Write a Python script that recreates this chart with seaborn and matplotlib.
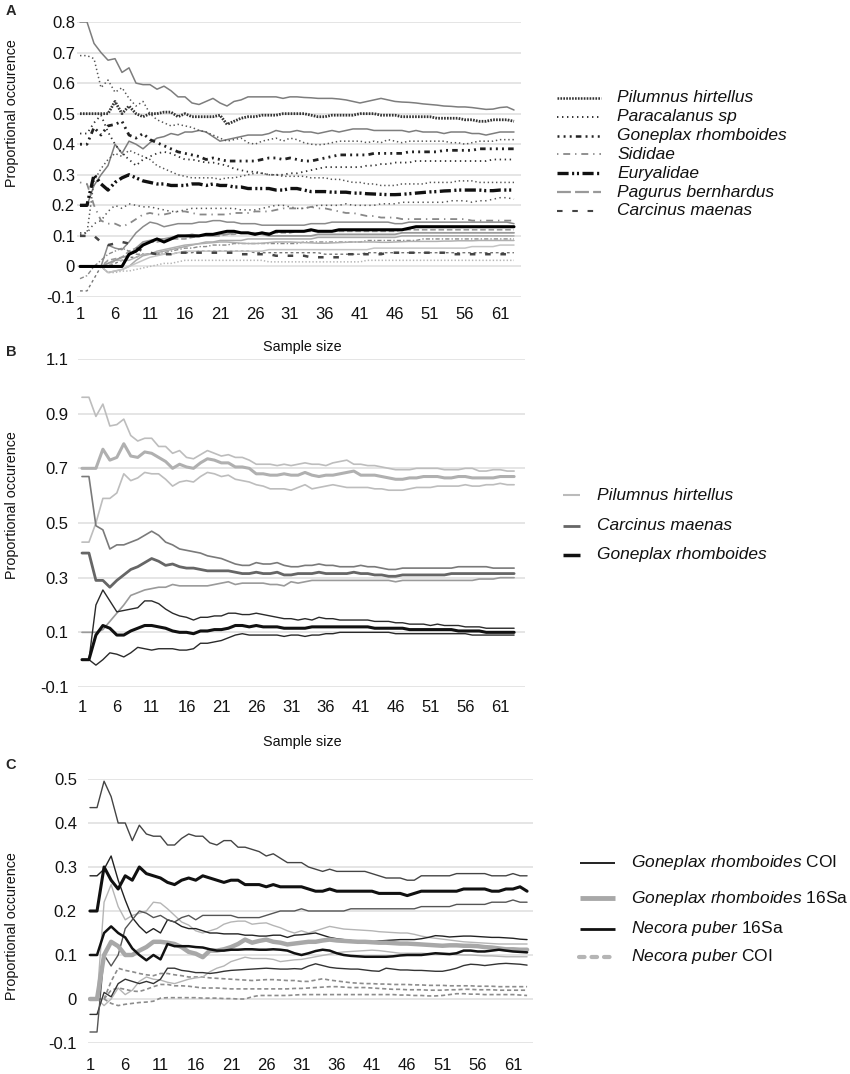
import numpy as np
import pandas as pd
import seaborn as sns
import matplotlib.pyplot as plt
from matplotlib.lines import Line2D

# x axis: sample size 1..63
sample_size = list(range(1, 64))
x_ticks = [1, 6, 11, 16, 21, 26, 31, 36, 41, 46, 51, 56, 61]

# ---------------- panel A ----------------
a_names = ["Pilumnus hirtellus", "Paracalanus sp", "Goneplax rhomboides", "Sididae",
           "Euryalidae", "Pagurus bernhardus", "Carcinus maenas"]
a_yticks = [0.8, 0.7, 0.6, 0.5, 0.4, 0.3, 0.2, 0.1, 0.0, -0.1]

a_pil_hi = [0.8,0.8,0.73,0.7,0.675,0.68,0.635,0.65,0.6,0.595,
            0.595,0.58,0.59,0.575,0.555,0.555,0.535,0.53,0.54,0.55,
            0.535,0.525,0.54,0.545,0.555,0.555,0.555,0.555,0.555,0.55,
            0.555,0.555,0.553,0.552,0.55,0.55,0.55,0.548,0.545,0.54,
            0.535,0.54,0.545,0.55,0.545,0.54,0.538,0.537,0.535,0.532,
            0.53,0.528,0.525,0.524,0.522,0.522,0.52,0.517,0.514,0.515,
            0.52,0.522,0.512]
a_pil_mean = [0.5,0.5,0.5,0.5,0.5,0.54,0.5,0.525,0.5,0.49,
              0.5,0.5,0.505,0.505,0.49,0.5,0.49,0.49,0.49,0.49,
              0.495,0.465,0.475,0.485,0.49,0.49,0.495,0.495,0.495,0.5,
              0.5,0.5,0.5,0.495,0.49,0.49,0.495,0.495,0.495,0.495,
              0.5,0.5,0.5,0.495,0.495,0.495,0.49,0.49,0.49,0.49,
              0.49,0.485,0.485,0.485,0.485,0.48,0.48,0.475,0.475,0.48,
              0.48,0.48,0.475]
a_pil_lo = [0.2,0.2,0.265,0.3,0.33,0.4,0.37,0.41,0.4,0.385,
            0.405,0.42,0.425,0.435,0.43,0.44,0.44,0.445,0.44,0.425,
            0.41,0.415,0.42,0.425,0.43,0.43,0.43,0.435,0.445,0.44,
            0.44,0.445,0.44,0.44,0.435,0.44,0.445,0.44,0.445,0.45,
            0.45,0.45,0.445,0.445,0.445,0.445,0.445,0.44,0.445,0.44,
            0.44,0.44,0.435,0.44,0.44,0.44,0.435,0.435,0.43,0.435,
            0.44,0.44,0.44]
a_par_hi = [0.69,0.69,0.68,0.585,0.61,0.57,0.585,0.55,0.525,0.54,
            0.5,0.48,0.47,0.46,0.465,0.46,0.455,0.445,0.44,0.43,
            0.42,0.41,0.415,0.42,0.405,0.4,0.41,0.415,0.42,0.41,
            0.42,0.415,0.405,0.4,0.398,0.4,0.405,0.41,0.41,0.41,
            0.41,0.405,0.41,0.405,0.415,0.41,0.405,0.41,0.41,0.41,
            0.41,0.41,0.41,0.405,0.405,0.4,0.405,0.41,0.41,0.41,
            0.415,0.415,0.415]
a_par_mean = [0.435,0.435,0.47,0.495,0.44,0.4,0.37,0.35,0.33,0.35,
              0.36,0.37,0.375,0.37,0.36,0.35,0.35,0.345,0.34,0.34,
              0.335,0.33,0.32,0.315,0.31,0.31,0.305,0.3,0.3,0.3,
              0.305,0.305,0.31,0.315,0.32,0.325,0.325,0.325,0.325,0.325,
              0.325,0.33,0.33,0.335,0.335,0.34,0.34,0.34,0.345,0.345,
              0.345,0.345,0.345,0.345,0.345,0.345,0.345,0.345,0.345,0.35,
              0.35,0.35,0.35]
a_par_lo = [0.11,0.11,0.28,0.32,0.35,0.37,0.36,0.38,0.37,0.36,
            0.35,0.33,0.32,0.31,0.3,0.295,0.29,0.29,0.29,0.29,
            0.285,0.29,0.29,0.295,0.3,0.305,0.305,0.3,0.3,0.295,
            0.295,0.295,0.295,0.29,0.29,0.29,0.285,0.285,0.28,0.275,
            0.275,0.27,0.27,0.265,0.265,0.265,0.27,0.27,0.27,0.27,
            0.275,0.275,0.275,0.275,0.28,0.28,0.28,0.275,0.275,0.275,
            0.275,0.275,0.275]
a_gon_mean = [0.4,0.4,0.455,0.43,0.46,0.465,0.475,0.43,0.42,0.435,
              0.415,0.405,0.395,0.385,0.375,0.37,0.365,0.36,0.35,0.355,
              0.35,0.345,0.345,0.345,0.345,0.345,0.35,0.355,0.355,0.35,
              0.355,0.35,0.345,0.345,0.35,0.355,0.36,0.365,0.365,0.365,
              0.365,0.365,0.37,0.37,0.37,0.37,0.37,0.375,0.375,0.375,
              0.375,0.375,0.38,0.38,0.38,0.38,0.38,0.385,0.385,0.385,
              0.385,0.385,0.385]
a_gon_b1 = [0.105,0.11,0.14,0.15,0.18,0.2,0.19,0.205,0.2,0.195,
            0.195,0.19,0.185,0.18,0.18,0.185,0.19,0.19,0.19,0.19,
            0.19,0.19,0.19,0.185,0.185,0.185,0.19,0.195,0.2,0.2,
            0.195,0.19,0.19,0.195,0.2,0.2,0.2,0.2,0.205,0.2,
            0.2,0.2,0.2,0.205,0.205,0.205,0.21,0.21,0.21,0.21,
            0.21,0.21,0.21,0.215,0.215,0.215,0.21,0.215,0.215,0.22,
            0.225,0.225,0.22]
a_gon_b2 = [-0.08,-0.08,-0.04,0.0,0.0,0.01,0.02,0.03,0.03,0.04,
            0.04,0.04,0.04,0.04,0.045,0.045,0.045,0.05,0.05,0.05,
            0.05,0.05,0.05,0.05,0.05,0.045,0.045,0.045,0.045,0.045,
            0.045,0.045,0.045,0.045,0.045,0.04,0.04,0.04,0.04,0.04,
            0.04,0.045,0.045,0.045,0.045,0.045,0.045,0.045,0.045,0.045,
            0.045,0.045,0.045,0.045,0.045,0.045,0.045,0.045,0.045,0.045,
            0.045,0.045,0.045]
a_sid_mean = [0.275,0.27,0.2,0.15,0.14,0.14,0.13,0.14,0.155,0.17,
              0.175,0.17,0.17,0.175,0.18,0.18,0.175,0.17,0.17,0.17,
              0.17,0.17,0.175,0.175,0.175,0.18,0.18,0.18,0.185,0.19,
              0.19,0.19,0.19,0.195,0.19,0.19,0.185,0.18,0.175,0.175,
              0.17,0.165,0.165,0.16,0.16,0.16,0.155,0.155,0.155,0.155,
              0.155,0.155,0.155,0.155,0.155,0.155,0.15,0.15,0.15,0.15,
              0.15,0.15,0.15]
a_sid_b1 = [0.0,0.0,0.0,0.0,0.02,0.025,0.03,0.05,0.06,0.07,
            0.08,0.08,0.085,0.09,0.09,0.09,0.095,0.1,0.1,0.1,
            0.1,0.105,0.105,0.11,0.11,0.11,0.11,0.11,0.11,0.11,
            0.11,0.115,0.115,0.115,0.115,0.115,0.115,0.115,0.115,0.115,
            0.115,0.115,0.115,0.115,0.115,0.115,0.12,0.12,0.12,0.12,
            0.12,0.12,0.12,0.12,0.12,0.12,0.12,0.12,0.12,0.12,
            0.12,0.12,0.12]
a_sid_b2 = [-0.04,-0.03,0.0,0.02,0.04,0.05,0.06,0.05,0.04,0.04,
            0.04,0.04,0.045,0.05,0.055,0.06,0.06,0.065,0.065,0.07,
            0.07,0.07,0.075,0.075,0.075,0.075,0.075,0.075,0.075,0.075,
            0.075,0.075,0.08,0.08,0.08,0.08,0.08,0.08,0.08,0.08,
            0.08,0.085,0.085,0.085,0.085,0.085,0.085,0.085,0.085,0.09,
            0.09,0.09,0.09,0.09,0.09,0.09,0.09,0.09,0.09,0.09,
            0.09,0.09,0.09]
a_eur_mean = [0.2,0.2,0.3,0.27,0.25,0.275,0.29,0.3,0.29,0.28,
              0.275,0.27,0.27,0.265,0.265,0.265,0.27,0.27,0.265,0.27,
              0.265,0.265,0.26,0.26,0.255,0.255,0.255,0.255,0.25,0.25,
              0.255,0.255,0.25,0.245,0.245,0.245,0.243,0.243,0.243,0.24,
              0.24,0.238,0.237,0.236,0.235,0.235,0.236,0.238,0.24,0.242,
              0.244,0.245,0.247,0.248,0.25,0.25,0.25,0.25,0.248,0.248,
              0.25,0.25,0.25]
a_eur_b1 = [0.0,0.0,0.0,0.0,0.0,0.0,0.0,0.04,0.05,0.07,
            0.08,0.09,0.08,0.09,0.1,0.1,0.1,0.1,0.105,0.105,
            0.11,0.115,0.115,0.11,0.11,0.105,0.11,0.105,0.115,0.115,
            0.115,0.115,0.115,0.12,0.115,0.115,0.115,0.12,0.12,0.12,
            0.12,0.12,0.12,0.12,0.12,0.12,0.12,0.125,0.13,0.13,
            0.13,0.13,0.13,0.13,0.13,0.13,0.13,0.13,0.13,0.13,
            0.13,0.13,0.13]
a_eur_b2 = [0.0,0.0,0.0,0.0,-0.02,-0.015,-0.01,0.0,0.02,0.035,
            0.04,0.045,0.05,0.055,0.06,0.065,0.07,0.075,0.08,0.08,
            0.085,0.085,0.085,0.085,0.09,0.09,0.09,0.09,0.09,0.09,
            0.09,0.09,0.09,0.09,0.095,0.095,0.095,0.095,0.095,0.095,
            0.095,0.095,0.095,0.095,0.095,0.095,0.1,0.1,0.1,0.1,
            0.1,0.1,0.1,0.1,0.1,0.1,0.1,0.1,0.1,0.1,
            0.1,0.1,0.1]
a_pag_mean = [0.0,0.0,0.0,0.0,0.01,0.02,0.03,0.035,0.06,0.08,
              0.085,0.09,0.09,0.095,0.1,0.1,0.105,0.1,0.1,0.1,
              0.105,0.105,0.11,0.11,0.11,0.11,0.105,0.1,0.1,0.1,
              0.1,0.1,0.1,0.1,0.105,0.105,0.105,0.105,0.105,0.105,
              0.105,0.105,0.105,0.105,0.105,0.105,0.11,0.11,0.11,0.11,
              0.11,0.11,0.11,0.11,0.11,0.11,0.11,0.11,0.11,0.11,
              0.11,0.11,0.11]
a_pag_b1 = [0.0,0.0,0.0,0.0,0.07,0.06,0.055,0.08,0.11,0.13,
            0.145,0.14,0.13,0.135,0.14,0.14,0.14,0.145,0.145,0.15,
            0.15,0.145,0.145,0.14,0.14,0.14,0.135,0.135,0.135,0.135,
            0.135,0.135,0.135,0.14,0.14,0.14,0.145,0.145,0.145,0.145,
            0.145,0.145,0.145,0.145,0.145,0.14,0.14,0.145,0.145,0.145,
            0.145,0.145,0.145,0.145,0.145,0.145,0.145,0.145,0.145,0.145,
            0.145,0.145,0.14]
a_pag_b2 = [0.0,0.0,0.0,0.0,0.0,0.02,0.02,0.02,0.03,0.04,
            0.04,0.05,0.055,0.06,0.065,0.07,0.072,0.074,0.076,0.078,
            0.08,0.08,0.078,0.076,0.075,0.075,0.076,0.078,0.08,0.08,
            0.08,0.079,0.078,0.077,0.076,0.076,0.077,0.078,0.079,0.08,
            0.08,0.08,0.08,0.079,0.079,0.08,0.081,0.082,0.082,0.082,
            0.082,0.082,0.083,0.083,0.084,0.084,0.084,0.085,0.085,0.085,
            0.085,0.085,0.085]
a_car_mean = [0.1,0.1,0.1,0.08,0.07,0.075,0.08,0.075,0.06,0.05,
              0.045,0.04,0.04,0.04,0.045,0.045,0.045,0.045,0.045,0.045,
              0.045,0.045,0.045,0.04,0.04,0.04,0.04,0.04,0.035,0.035,
              0.035,0.035,0.035,0.03,0.03,0.03,0.03,0.03,0.04,0.04,
              0.04,0.04,0.04,0.04,0.045,0.045,0.045,0.045,0.045,0.045,
              0.045,0.045,0.045,0.04,0.04,0.04,0.04,0.04,0.04,0.04,
              0.04,0.04,0.04]
a_car_b1 = [0.0,0.0,0.0,0.0,-0.02,-0.015,-0.01,0.0,0.01,0.02,
            0.03,0.035,0.04,0.04,0.045,0.05,0.05,0.05,0.05,0.05,
            0.05,0.05,0.05,0.05,0.05,0.05,0.05,0.055,0.055,0.055,
            0.055,0.055,0.055,0.055,0.055,0.055,0.055,0.055,0.055,0.055,
            0.055,0.055,0.06,0.06,0.06,0.06,0.06,0.06,0.06,0.06,
            0.06,0.06,0.06,0.06,0.06,0.06,0.065,0.065,0.065,0.065,
            0.07,0.07,0.07]
a_car_b2 = [0.0,0.0,0.0,0.0,-0.02,-0.02,-0.015,-0.015,-0.01,-0.005,
            0.0,0.005,0.01,0.01,0.015,0.02,0.02,0.02,0.02,0.02,
            0.02,0.02,0.02,0.02,0.02,0.02,0.02,0.015,0.015,0.015,
            0.015,0.015,0.015,0.015,0.015,0.015,0.015,0.015,0.015,0.015,
            0.015,0.02,0.02,0.02,0.02,0.02,0.02,0.02,0.02,0.02,
            0.02,0.02,0.02,0.02,0.02,0.02,0.02,0.02,0.02,0.02,
            0.02,0.02,0.02]

# ---------------- panel B ----------------
b_names = ["Pilumnus hirtellus", "Carcinus maenas", "Goneplax rhomboides"]
b_yticks = [1.1, 0.9, 0.7, 0.5, 0.3, 0.1, -0.1]

b_pil_hi = [0.96,0.96,0.89,0.935,0.855,0.86,0.88,0.82,0.8,0.81,
            0.81,0.78,0.78,0.755,0.765,0.74,0.735,0.75,0.765,0.755,
            0.745,0.75,0.74,0.74,0.73,0.715,0.715,0.715,0.71,0.715,
            0.71,0.715,0.72,0.715,0.715,0.71,0.72,0.725,0.73,0.715,
            0.715,0.71,0.71,0.705,0.7,0.695,0.695,0.695,0.7,0.7,
            0.7,0.7,0.695,0.695,0.695,0.7,0.7,0.69,0.69,0.695,
            0.695,0.69,0.69]
b_pil_mean = [0.7,0.7,0.7,0.77,0.73,0.74,0.79,0.745,0.74,0.76,
              0.755,0.74,0.725,0.7,0.715,0.705,0.7,0.72,0.735,0.73,
              0.72,0.72,0.705,0.705,0.7,0.68,0.68,0.675,0.675,0.68,
              0.675,0.675,0.685,0.675,0.67,0.675,0.675,0.68,0.685,0.69,
              0.675,0.675,0.675,0.67,0.665,0.66,0.66,0.665,0.665,0.67,
              0.67,0.67,0.665,0.665,0.67,0.67,0.665,0.665,0.665,0.665,
              0.67,0.67,0.67]
b_pil_lo = [0.43,0.43,0.5,0.59,0.59,0.61,0.68,0.655,0.665,0.685,
            0.68,0.68,0.66,0.635,0.65,0.655,0.65,0.67,0.685,0.68,
            0.67,0.675,0.66,0.655,0.65,0.64,0.635,0.625,0.625,0.625,
            0.62,0.63,0.64,0.625,0.63,0.635,0.64,0.635,0.63,0.63,
            0.63,0.63,0.625,0.625,0.62,0.62,0.62,0.625,0.63,0.63,
            0.63,0.635,0.635,0.635,0.635,0.64,0.635,0.635,0.64,0.64,
            0.645,0.64,0.64]
b_car_hi = [0.67,0.67,0.49,0.475,0.405,0.42,0.42,0.43,0.44,0.455,
            0.47,0.455,0.43,0.42,0.405,0.4,0.395,0.39,0.38,0.375,
            0.37,0.36,0.35,0.345,0.345,0.355,0.35,0.35,0.355,0.345,
            0.34,0.34,0.345,0.345,0.35,0.345,0.345,0.34,0.34,0.34,
            0.345,0.34,0.34,0.335,0.33,0.33,0.335,0.335,0.335,0.335,
            0.335,0.335,0.335,0.335,0.34,0.34,0.34,0.34,0.34,0.335,
            0.335,0.335,0.335]
b_car_mean = [0.39,0.39,0.29,0.29,0.265,0.29,0.31,0.33,0.34,0.355,
              0.37,0.36,0.345,0.35,0.34,0.335,0.335,0.33,0.325,0.325,
              0.325,0.325,0.32,0.315,0.315,0.32,0.315,0.315,0.32,0.31,
              0.31,0.315,0.315,0.315,0.32,0.315,0.315,0.315,0.315,0.32,
              0.315,0.315,0.31,0.31,0.305,0.305,0.31,0.31,0.31,0.31,
              0.31,0.31,0.31,0.315,0.315,0.315,0.315,0.315,0.315,0.315,
              0.315,0.315,0.315]
b_car_lo = [0.1,0.1,0.1,0.11,0.14,0.17,0.2,0.235,0.245,0.255,
            0.26,0.265,0.265,0.275,0.27,0.27,0.27,0.27,0.27,0.275,
            0.28,0.285,0.275,0.28,0.28,0.28,0.28,0.275,0.275,0.27,
            0.285,0.28,0.285,0.29,0.29,0.29,0.29,0.29,0.29,0.29,
            0.29,0.29,0.29,0.29,0.29,0.285,0.29,0.29,0.29,0.29,
            0.29,0.29,0.29,0.29,0.29,0.29,0.29,0.295,0.295,0.295,
            0.3,0.3,0.3]
b_gon_hi = [0.0,0.0,0.2,0.255,0.215,0.175,0.18,0.185,0.19,0.215,
            0.215,0.205,0.185,0.17,0.16,0.155,0.145,0.155,0.155,0.16,
            0.16,0.17,0.17,0.165,0.165,0.17,0.165,0.16,0.155,0.15,
            0.15,0.145,0.15,0.145,0.155,0.15,0.15,0.145,0.145,0.145,
            0.145,0.145,0.14,0.14,0.14,0.135,0.135,0.13,0.13,0.13,
            0.125,0.13,0.125,0.125,0.125,0.12,0.12,0.12,0.115,0.115,
            0.115,0.115,0.115]
b_gon_mean = [0.0,0.0,0.09,0.125,0.115,0.09,0.09,0.105,0.115,0.125,
              0.125,0.12,0.115,0.105,0.1,0.1,0.095,0.105,0.105,0.11,
              0.11,0.115,0.125,0.125,0.12,0.125,0.12,0.12,0.12,0.115,
              0.115,0.115,0.115,0.12,0.12,0.12,0.12,0.12,0.12,0.12,
              0.12,0.12,0.115,0.115,0.115,0.115,0.115,0.11,0.11,0.11,
              0.11,0.11,0.11,0.11,0.105,0.105,0.105,0.105,0.1,0.1,
              0.1,0.1,0.1]
b_gon_lo = [0.0,0.0,-0.02,0.0,0.025,0.02,0.01,0.025,0.045,0.04,
            0.035,0.04,0.04,0.04,0.035,0.035,0.04,0.06,0.06,0.065,
            0.07,0.08,0.09,0.095,0.09,0.09,0.09,0.09,0.09,0.085,
            0.09,0.09,0.085,0.09,0.09,0.095,0.095,0.1,0.1,0.1,
            0.1,0.1,0.1,0.1,0.1,0.095,0.095,0.095,0.095,0.095,
            0.095,0.095,0.095,0.095,0.095,0.095,0.09,0.09,0.09,0.09,
            0.09,0.09,0.09]

# ---------------- panel C ----------------
c_yticks = [0.5, 0.4, 0.3, 0.2, 0.1, 0.0, -0.1]

c_gcoi_hi = [0.435,0.435,0.495,0.46,0.4,0.4,0.36,0.395,0.375,0.37,
             0.37,0.35,0.35,0.365,0.375,0.37,0.37,0.355,0.35,0.36,
             0.36,0.345,0.345,0.34,0.335,0.325,0.33,0.32,0.31,0.31,
             0.31,0.3,0.295,0.29,0.295,0.29,0.29,0.29,0.29,0.29,
             0.285,0.28,0.275,0.275,0.275,0.27,0.27,0.28,0.28,0.28,
             0.28,0.28,0.285,0.285,0.285,0.285,0.285,0.28,0.28,0.28,
             0.285,0.28,0.28]
c_gcoi_mean = [0.2,0.2,0.3,0.27,0.25,0.28,0.27,0.3,0.285,0.28,
               0.275,0.265,0.26,0.27,0.275,0.27,0.28,0.275,0.27,0.265,
               0.27,0.27,0.26,0.26,0.26,0.255,0.26,0.255,0.255,0.255,
               0.255,0.25,0.245,0.245,0.25,0.245,0.245,0.245,0.245,0.245,
               0.245,0.24,0.24,0.24,0.24,0.235,0.24,0.245,0.245,0.245,
               0.245,0.245,0.245,0.25,0.25,0.25,0.25,0.245,0.245,0.25,
               0.25,0.255,0.245]
c_gcoi_lo = [-0.075,-0.075,0.1,0.075,0.1,0.16,0.18,0.2,0.195,0.185,
             0.19,0.18,0.175,0.185,0.19,0.18,0.19,0.19,0.19,0.19,
             0.19,0.185,0.185,0.185,0.185,0.19,0.195,0.2,0.2,0.2,
             0.205,0.2,0.2,0.2,0.2,0.2,0.2,0.205,0.205,0.205,
             0.205,0.205,0.205,0.205,0.205,0.205,0.205,0.21,0.21,0.21,
             0.21,0.21,0.215,0.215,0.215,0.215,0.215,0.22,0.22,0.22,
             0.225,0.22,0.22]
c_g16_hi = [0.0,0.0,0.22,0.26,0.21,0.18,0.19,0.195,0.2,0.22,
            0.218,0.205,0.19,0.175,0.168,0.155,0.15,0.155,0.16,0.17,
            0.175,0.177,0.177,0.17,0.172,0.173,0.167,0.162,0.155,0.15,
            0.155,0.15,0.155,0.16,0.165,0.162,0.159,0.158,0.157,0.156,
            0.155,0.153,0.152,0.151,0.15,0.15,0.147,0.143,0.14,0.138,
            0.136,0.134,0.132,0.13,0.129,0.128,0.127,0.126,0.125,0.125,
            0.125,0.125,0.125]
c_g16_mean = [0.0,0.0,0.1,0.13,0.12,0.1,0.1,0.11,0.118,0.13,
              0.13,0.128,0.125,0.118,0.107,0.103,0.095,0.11,0.11,0.113,
              0.118,0.125,0.135,0.128,0.132,0.135,0.13,0.128,0.124,0.126,
              0.128,0.13,0.13,0.133,0.135,0.133,0.132,0.131,0.13,0.13,
              0.129,0.128,0.128,0.127,0.126,0.126,0.125,0.124,0.123,0.122,
              0.121,0.122,0.122,0.121,0.121,0.12,0.118,0.117,0.115,0.113,
              0.113,0.112,0.112]
c_g16_lo = [0.0,0.0,-0.015,0.0,0.025,0.01,0.02,0.04,0.05,0.045,
            0.043,0.038,0.035,0.04,0.045,0.048,0.05,0.062,0.07,0.075,
            0.085,0.09,0.095,0.092,0.092,0.092,0.09,0.085,0.087,0.089,
            0.09,0.093,0.096,0.099,0.102,0.105,0.107,0.108,0.109,0.11,
            0.111,0.11,0.108,0.106,0.104,0.104,0.104,0.104,0.103,0.103,
            0.102,0.102,0.101,0.1,0.1,0.099,0.098,0.098,0.097,0.096,
            0.096,0.096,0.096]
c_n16_hi = [0.28,0.28,0.295,0.325,0.27,0.225,0.185,0.165,0.15,0.16,
            0.15,0.18,0.175,0.165,0.16,0.16,0.155,0.15,0.15,0.148,
            0.148,0.148,0.145,0.145,0.143,0.143,0.145,0.145,0.14,0.145,
            0.146,0.148,0.15,0.145,0.14,0.137,0.135,0.133,0.13,0.13,
            0.13,0.132,0.133,0.134,0.135,0.135,0.135,0.137,0.14,0.144,
            0.143,0.141,0.142,0.143,0.143,0.142,0.141,0.14,0.14,0.139,
            0.138,0.136,0.135]
c_n16_mean = [0.1,0.1,0.15,0.165,0.15,0.14,0.115,0.1,0.088,0.1,
              0.09,0.125,0.12,0.12,0.12,0.118,0.117,0.113,0.11,0.11,
              0.112,0.112,0.113,0.113,0.112,0.112,0.113,0.112,0.11,0.104,
              0.1,0.104,0.109,0.112,0.11,0.104,0.1,0.098,0.097,0.096,
              0.096,0.096,0.096,0.097,0.099,0.1,0.1,0.1,0.102,0.104,
              0.103,0.102,0.104,0.11,0.11,0.108,0.108,0.11,0.112,0.11,
              0.108,0.107,0.106]
c_n16_lo = [-0.035,-0.035,0.015,0.005,0.035,0.045,0.04,0.035,0.04,0.035,
            0.045,0.07,0.07,0.065,0.063,0.06,0.06,0.058,0.06,0.063,
            0.065,0.066,0.067,0.068,0.069,0.07,0.069,0.068,0.068,0.069,
            0.068,0.075,0.08,0.076,0.072,0.07,0.069,0.068,0.068,0.066,
            0.064,0.063,0.07,0.068,0.066,0.066,0.065,0.065,0.064,0.063,
            0.063,0.066,0.07,0.076,0.079,0.078,0.076,0.078,0.08,0.081,
            0.08,0.079,0.077]
c_ncoi_hi = [0.0,0.0,0.0,0.04,0.07,0.065,0.062,0.058,0.055,0.053,
             0.058,0.058,0.055,0.053,0.05,0.05,0.05,0.048,0.047,0.046,
             0.045,0.044,0.043,0.042,0.043,0.044,0.044,0.043,0.042,0.042,
             0.04,0.04,0.043,0.046,0.043,0.041,0.039,0.037,0.036,0.035,
             0.035,0.034,0.034,0.033,0.033,0.033,0.032,0.032,0.031,0.031,
             0.031,0.03,0.03,0.03,0.03,0.029,0.029,0.029,0.028,0.028,
             0.028,0.028,0.028]
c_ncoi_mean = [0.0,0.0,0.0,0.02,0.025,0.022,0.018,0.017,0.022,0.028,
               0.033,0.033,0.03,0.03,0.029,0.027,0.025,0.025,0.025,0.024,
               0.023,0.023,0.023,0.023,0.023,0.023,0.023,0.023,0.023,0.024,
               0.024,0.025,0.026,0.027,0.028,0.028,0.027,0.026,0.026,0.026,
               0.025,0.024,0.023,0.022,0.022,0.021,0.021,0.021,0.02,0.02,
               0.02,0.021,0.021,0.022,0.022,0.021,0.021,0.021,0.02,0.02,
               0.02,0.02,0.02]
c_ncoi_lo = [0.0,0.0,0.0,-0.01,-0.015,-0.012,-0.01,-0.008,-0.007,-0.005,
             0.002,0.003,0.003,0.003,0.003,0.003,0.002,0.002,0.002,0.001,
             0.001,0.0,0.0,0.005,0.008,0.008,0.008,0.008,0.008,0.009,
             0.01,0.01,0.01,0.01,0.01,0.01,0.01,0.01,0.01,0.01,
             0.01,0.01,0.01,0.01,0.009,0.009,0.008,0.008,0.007,0.007,
             0.008,0.01,0.012,0.012,0.011,0.011,0.01,0.01,0.01,0.01,
             0.01,0.009,0.008]

#%% styles
sns.set_style("white")
plt.rcParams["font.family"] = ["Liberation Sans", "DejaVu Sans"]
plt.rcParams["mathtext.fontset"] = "custom"
plt.rcParams["mathtext.rm"] = "Liberation Sans"
plt.rcParams["mathtext.it"] = "Liberation Sans:italic"
plt.rcParams["lines.scale_dashes"] = False

W, H = 850, 1074
fig = plt.figure(figsize=(W / 100, H / 100), dpi=100)


def rect(l, t, r, b):
    return [l / W, 1 - b / H, (r - l) / W, (b - t) / H]


def fmt(v):
    return "0" if abs(v) < 1e-9 else f"{v:.1f}"


def setup(ax, yticks, xlim, ypad, xpad):
    ax.set_xlim(*xlim)
    ax.set_ylim(min(yticks), max(yticks))
    ax.set_yticks(yticks)
    ax.set_yticklabels([fmt(v) for v in yticks])
    ax.set_xticks(x_ticks)
    ax.set_xticklabels([str(v) for v in x_ticks])
    ax.tick_params(axis="y", length=0, pad=ypad, labelsize=12, labelcolor="#111111")
    ax.tick_params(axis="x", length=0, pad=xpad, labelsize=12, labelcolor="#111111")
    for s in ax.spines.values():
        s.set_visible(False)
    ax.yaxis.grid(True, color="#e3e3e3", lw=1.3)
    ax.xaxis.grid(False)
    ax.set_axisbelow(True)
    ax.set_xlabel("")
    ax.set_ylabel("")


def draw(ax, y, color, lw, ls="-"):
    assert len(y) == len(sample_size), len(y)
    sns.lineplot(x=sample_size, y=y, ax=ax, color=color, linewidth=lw,
                 linestyle=ls, legend=False)


def legend_row(x0, x1, xt, y, label, color, lw, ls="-", size=12.5, italic=True, cap="butt"):
    fig.add_artist(Line2D([x0 / W, x1 / W], [1 - y / H, 1 - y / H], transform=fig.transFigure,
                          color=color, lw=lw, linestyle=ls, dash_capstyle=cap,
                          solid_capstyle="butt"))
    fig.text(xt / W, 1 - y / H, label, fontsize=size, ha="left", va="center",
             style="italic" if italic else "normal", color="#111111")


# line styles for panel A
s_pil = (0, (1.2, 0.9))
s_par = (0, (1, 2.6))
s_gon = (0, (1.4, 3, 1.4, 3, 1.4, 3, 4, 3))
s_sid = (0, (1, 3.5, 5, 3.5))
s_eur = (0, (8, 2.5, 1.5, 2, 1.5, 2.5))
s_pag = (0, (10, 3))
s_car = (0, (4, 7))

#%% panel A
ax_a = fig.add_axes(rect(77, 22, 521, 297))
a_lines = [
    (a_pil_hi, "#7d7d7d", 1.1, "-"),
    (a_pil_lo, "#7d7d7d", 1.1, "-"),
    (a_par_hi, "#555555", 1.1, (0, (1, 2))),
    (a_par_lo, "#555555", 1.1, (0, (1, 2))),
    (a_gon_b1, "#555555", 1.1, (0, (1, 2.5))),
    (a_gon_b2, "#777777", 1.0, (0, (2, 2))),
    (a_sid_b1, "#9a9a9a", 1.2, (0, (4, 2))),
    (a_sid_b2, "#8a8a8a", 1.0, (0, (3, 1.5, 1, 1.5))),
    (a_eur_b2, "#aaaaaa", 1.1, "-"),
    (a_pag_b1, "#8a8a8a", 1.1, "-"),
    (a_pag_b2, "#b0b0b0", 1.1, "-"),
    (a_car_b1, "#c4c4c4", 1.1, "-"),
    (a_car_b2, "#b5b5b5", 1.1, (0, (1, 1.5))),
    (a_pag_mean, "#999999", 1.3, "-"),
    (a_sid_mean, "#888888", 1.3, s_sid),
    (a_car_mean, "#444444", 1.8, s_car),
    (a_par_mean, "#333333", 1.3, s_par),
    (a_gon_mean, "#222222", 2.0, s_gon),
    (a_eur_mean, "#111111", 2.4, s_eur),
    (a_eur_b1, "#000000", 2.2, "-"),
    (a_pil_mean, "#333333", 2.0, s_pil),
]
for vals, c, lw, ls in a_lines:
    draw(ax_a, vals, c, lw, ls)
setup(ax_a, a_yticks, (0.57, 64.0), 1.5, 7)

a_leg = [("#333333", 1.8, s_pil), ("#333333", 1.4, s_par), ("#222222", 1.8, s_gon),
         ("#888888", 1.3, s_sid), ("#111111", 2.4, s_eur), ("#999999", 1.6, s_pag),
         ("#444444", 1.5, s_car)]
for i, (name, (c, lw, ls)) in enumerate(zip(a_names, a_leg)):
    legend_row(557, 601, 617, 98 + 18.8 * i, name, c, lw, ls)

#%% panel B
ax_b = fig.add_axes(rect(78, 359, 525, 687))
b_lines = [
    (b_pil_hi, "#bdbdbd", 1.2), (b_pil_lo, "#bdbdbd", 1.2), (b_pil_mean, "#b0b0b0", 2.2),
    (b_car_hi, "#7a7a7a", 1.2), (b_car_lo, "#9a9a9a", 1.2), (b_car_mean, "#666666", 2.0),
    (b_gon_hi, "#2a2a2a", 1.0), (b_gon_lo, "#2a2a2a", 1.0), (b_gon_mean, "#111111", 2.2),
]
for vals, c, lw in b_lines:
    draw(ax_b, vals, c, lw)
setup(ax_b, b_yticks, (0.43, 64.56), 7, 9.5)

b_leg = [("#bbbbbb", 1.5), ("#666666", 2.0), ("#111111", 2.5)]
for name, (c, lw), y in zip(b_names, b_leg, [495, 526, 555]):
    legend_row(563, 580, 597, y, name, c, lw)

#%% panel C
ax_c = fig.add_axes(rect(88, 779, 533, 1043))
dash_c = (0, (3, 2))
c_lines = [
    (c_ncoi_hi, "#8c8c8c", 1.2, dash_c), (c_ncoi_lo, "#8c8c8c", 1.2, dash_c),
    (c_ncoi_mean, "#8c8c8c", 1.2, dash_c),
    (c_g16_hi, "#b5b5b5", 1.0, "-"), (c_g16_lo, "#b5b5b5", 1.0, "-"),
    (c_n16_hi, "#222222", 1.0, "-"), (c_n16_lo, "#333333", 1.0, "-"),
    (c_gcoi_hi, "#444444", 1.0, "-"), (c_gcoi_lo, "#555555", 1.0, "-"),
    (c_g16_mean, "#a8a8a8", 3.2, "-"),
    (c_n16_mean, "#111111", 1.8, "-"),
    (c_gcoi_mean, "#111111", 2.2, "-"),
]
for vals, c, lw, ls in c_lines:
    draw(ax_c, vals, c, lw, ls)
setup(ax_c, c_yticks, (0.72, 63.84), 8, 11)

legend_row(580, 615, 631, 863, r"$\mathit{Goneplax\ rhomboides}$ COI", "#111111", 1.3, italic=False)
legend_row(580, 615, 631, 898, r"$\mathit{Goneplax\ rhomboides}$ 16Sa", "#a8a8a8", 3.5, italic=False)
legend_row(580, 615, 631, 929, r"$\mathit{Necora\ puber}$ 16Sa", "#111111", 2.0, italic=False)
legend_row(579, 615, 631, 957, r"$\mathit{Necora\ puber}$ COI", "#b5b5b5", 3.0, (0, (4, 5)),
           italic=False, cap="round")

#%% labels
for letter, y in [("A", 11), ("B", 352), ("C", 765)]:
    fig.text(11 / W, 1 - y / H, letter, fontsize=10.5, weight="bold", ha="center", va="center")
for y in [113, 505, 926]:
    fig.text(12 / W, 1 - y / H, "Proportional occurence", fontsize=10.3, rotation=90,
             ha="center", va="center", color="#111111")
for y in [347, 742]:
    fig.text(302 / W, 1 - y / H, "Sample size", fontsize=10.4, ha="center", va="center",
             color="#111111")

fig.savefig("out.png", dpi=100, facecolor="white")
